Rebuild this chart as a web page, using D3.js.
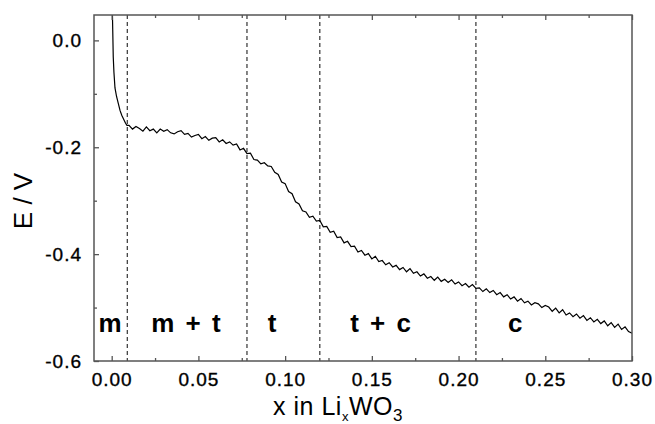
<!DOCTYPE html>
<html>
<head>
<meta charset="utf-8">
<script src="https://cdn.jsdelivr.net/npm/d3@7"></script>
<style>
  html, body { margin: 0; padding: 0; background: #fff; }
  svg { display: block; }
</style>
</head>
<body>
<svg id="chart" width="655" height="424"></svg>
<script>
// Potential E (V) versus lithium content x in LixWO3
const initialDrop = [
  [0.0003, 0.070], [0.0006, 0.020], [0.0009, -0.031], [0.0013, -0.060],
  [0.0019, -0.089], [0.0028, -0.105], [0.0038, -0.118], [0.0048, -0.131],
  [0.0058, -0.140], [0.0071, -0.149], [0.0080, -0.155], [0.0088, -0.159]
];
const xContent = [
  0.010, 0.012, 0.014, 0.016, 0.018, 0.020, 0.022, 0.024, 0.026, 0.028,
  0.030, 0.032, 0.034, 0.036, 0.038, 0.040, 0.042, 0.044, 0.046, 0.048,
  0.050, 0.052, 0.054, 0.056, 0.058, 0.060, 0.062, 0.064, 0.066, 0.068,
  0.070, 0.072, 0.074, 0.076, 0.078, 0.080, 0.082, 0.084, 0.086, 0.088,
  0.090, 0.092, 0.094, 0.096, 0.098, 0.100, 0.102, 0.104, 0.106, 0.108,
  0.110, 0.112, 0.114, 0.116, 0.118, 0.120, 0.122, 0.124, 0.126, 0.128,
  0.130, 0.132, 0.134, 0.136, 0.138, 0.140, 0.142, 0.144, 0.146, 0.148,
  0.150, 0.152, 0.154, 0.156, 0.158, 0.160, 0.162, 0.164, 0.166, 0.168,
  0.170, 0.172, 0.174, 0.176, 0.178, 0.180, 0.182, 0.184, 0.186, 0.188,
  0.190, 0.192, 0.194, 0.196, 0.198, 0.200, 0.202, 0.204, 0.206, 0.208,
  0.210, 0.212, 0.214, 0.216, 0.218, 0.220, 0.222, 0.224, 0.226, 0.228,
  0.230, 0.232, 0.234, 0.236, 0.238, 0.240, 0.242, 0.244, 0.246, 0.248,
  0.250, 0.252, 0.254, 0.256, 0.258, 0.260, 0.262, 0.264, 0.266, 0.268,
  0.270, 0.272, 0.274, 0.276, 0.278, 0.280, 0.282, 0.284, 0.286, 0.288,
  0.290, 0.292, 0.294, 0.296, 0.298, 0.300
];
const potential = [
  -0.159, -0.166, -0.161, -0.165, -0.170, -0.162, -0.169, -0.166, -0.173, -0.166,
  -0.170, -0.167, -0.173, -0.175, -0.171, -0.169, -0.176, -0.174, -0.181, -0.178,
  -0.176, -0.184, -0.180, -0.187, -0.183, -0.182, -0.190, -0.186, -0.193, -0.190,
  -0.196, -0.194, -0.205, -0.202, -0.212, -0.211, -0.223, -0.224, -0.231, -0.229,
  -0.235, -0.236, -0.247, -0.251, -0.265, -0.268, -0.283, -0.287, -0.302, -0.306,
  -0.319, -0.321, -0.331, -0.329, -0.338, -0.337, -0.349, -0.348, -0.359, -0.357,
  -0.369, -0.368, -0.379, -0.376, -0.386, -0.385, -0.396, -0.393, -0.402, -0.399,
  -0.409, -0.404, -0.414, -0.412, -0.420, -0.416, -0.424, -0.421, -0.429, -0.425,
  -0.433, -0.427, -0.436, -0.433, -0.441, -0.437, -0.445, -0.442, -0.449, -0.443,
  -0.451, -0.447, -0.453, -0.448, -0.456, -0.452, -0.459, -0.455, -0.462, -0.457,
  -0.464, -0.463, -0.470, -0.465, -0.472, -0.468, -0.476, -0.472, -0.480, -0.476,
  -0.484, -0.480, -0.488, -0.483, -0.491, -0.488, -0.495, -0.491, -0.493, -0.500,
  -0.496, -0.499, -0.507, -0.501, -0.510, -0.504, -0.514, -0.510, -0.517, -0.512,
  -0.520, -0.515, -0.524, -0.519, -0.527, -0.522, -0.530, -0.525, -0.534, -0.528,
  -0.537, -0.531, -0.541, -0.536, -0.545, -0.548
];
// Phase boundaries and phase labels
const boundaries = [0.009, 0.078, 0.12, 0.21];
const phaseNames = ["m", "m + t", "t", "t + c", "c"];
const phaseX = [-0.0009, 0.0428, 0.0925, 0.155, 0.2327];
const xTicks = [0.00, 0.05, 0.10, 0.15, 0.20, 0.25, 0.30];
const xMinor = [0.025, 0.075, 0.125, 0.175, 0.225, 0.275];
const yTicks = [0.0, -0.2, -0.4, -0.6];
const yMinor = [-0.1, -0.3, -0.5];

const svg = d3.select("#chart");
const plotLeft = 94, plotRight = 632, plotTop = 15, plotBottom = 361;

const x = d3.scaleLinear().domain([-0.0102, 0.30]).range([plotLeft, plotRight]);
const y = d3.scaleLinear().domain([-0.6, 0.0475]).range([plotBottom, plotTop]);

const frameColor = "#555";
const font = "Arial, 'Liberation Sans', Helvetica, sans-serif";

svg.append("defs").append("clipPath").attr("id", "plot-clip")
  .append("rect").attr("x", plotLeft).attr("y", plotTop)
  .attr("width", plotRight - plotLeft).attr("height", plotBottom - plotTop);

// Phase boundary lines
svg.append("g").selectAll("line").data(boundaries).join("line")
  .attr("x1", d => x(d)).attr("x2", d => x(d))
  .attr("y1", plotTop).attr("y2", plotBottom)
  .attr("stroke", "#333").attr("stroke-width", 1.2)
  .attr("stroke-dasharray", "4,3");

// Potential curve
const series = initialDrop.concat(xContent.map((v, i) => [v, potential[i]]));
svg.append("path")
  .datum(series)
  .attr("clip-path", "url(#plot-clip)")
  .attr("fill", "none").attr("stroke", "#000").attr("stroke-width", 1.2)
  .attr("d", d3.line().x(d => x(d[0])).y(d => y(d[1])));

// Axes: bottom and left with labels, top mirrored with ticks only
function styleAxis(g) {
  g.select(".domain").remove();
  g.selectAll(".tick line").attr("stroke", frameColor).attr("stroke-width", 1.3);
  g.selectAll(".tick text").attr("fill", "#000")
    .attr("stroke", "#000").attr("stroke-width", 0.35)
    .style("font-family", font).style("font-size", "19px").style("letter-spacing", "1px");
}
const fmt2 = d3.format(".2f"), fmt1 = d3.format(".1f");

svg.append("g").attr("transform", `translate(0,${plotBottom})`)
  .call(d3.axisBottom(x).tickValues(xTicks).tickFormat(fmt2).tickSize(-5).tickPadding(12))
  .call(styleAxis);
svg.append("g").attr("transform", `translate(0,${plotBottom})`)
  .call(d3.axisBottom(x).tickValues(xMinor).tickFormat("").tickSize(-3))
  .call(styleAxis);
svg.append("g").attr("transform", `translate(0,${plotTop})`)
  .call(d3.axisTop(x).tickValues(xTicks).tickFormat("").tickSize(-5))
  .call(styleAxis);
svg.append("g").attr("transform", `translate(0,${plotTop})`)
  .call(d3.axisTop(x).tickValues(xMinor).tickFormat("").tickSize(-3))
  .call(styleAxis);
svg.append("g").attr("transform", `translate(${plotLeft},0)`)
  .call(d3.axisLeft(y).tickValues(yTicks).tickFormat(fmt1).tickSize(-5).tickPadding(12))
  .call(styleAxis);
svg.append("g").attr("transform", `translate(${plotLeft},0)`)
  .call(d3.axisLeft(y).tickValues(yMinor).tickFormat("").tickSize(-3))
  .call(styleAxis);
svg.selectAll(".tick text").text(function () { return this.textContent.replace("−", "-"); });

// Frame
svg.append("rect").attr("x", plotLeft).attr("y", plotTop)
  .attr("width", plotRight - plotLeft).attr("height", plotBottom - plotTop)
  .attr("fill", "none").attr("stroke", frameColor).attr("stroke-width", 1.5);

// Phase labels
svg.append("g").selectAll("text").data(phaseNames).join("text")
  .attr("x", (d, i) => x(phaseX[i])).attr("y", 332)
  .attr("text-anchor", "middle")
  .style("font-family", font).style("font-weight", "bold").style("font-size", "26px")
  .style("word-spacing", "4px")
  .text(d => d);

// Axis titles
const xt = svg.append("text").attr("x", 338).attr("y", 415).attr("text-anchor", "middle")
  .style("font-family", font).style("font-size", "25px").style("letter-spacing", "0.5px");
xt.append("tspan").text("x in Li");
xt.append("tspan").attr("dy", 6).style("font-size", "13px").text("x");
xt.append("tspan").attr("dy", -6).text("WO");
xt.append("tspan").attr("dy", 6).style("font-size", "17px").text("3");

svg.append("text")
  .attr("transform", "translate(32,201) rotate(-90)")
  .attr("text-anchor", "middle")
  .style("font-family", font).style("font-size", "26px")
  .text("E / V");
</script>
</body>
</html>
